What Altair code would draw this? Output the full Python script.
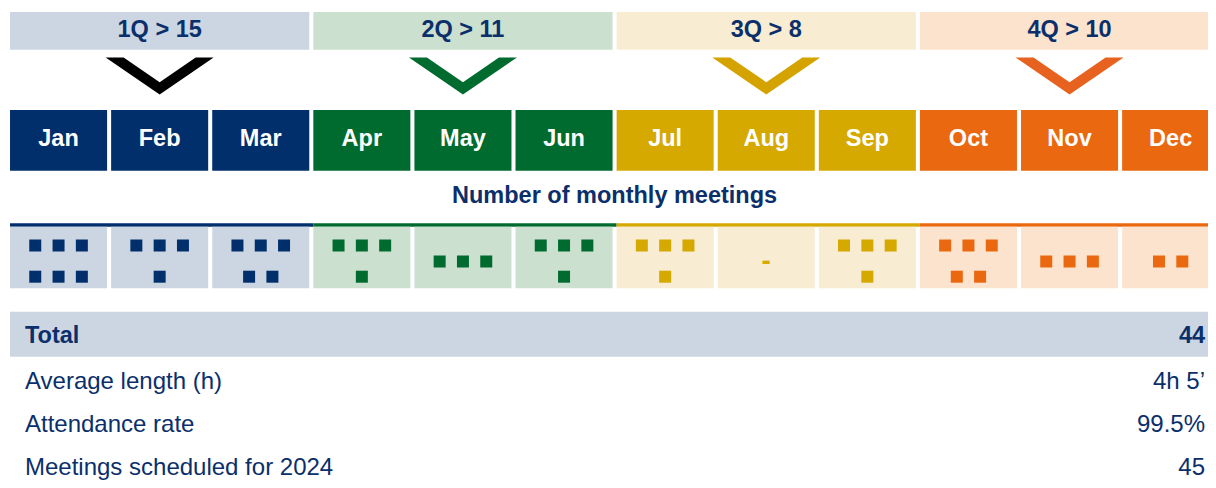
import altair as alt
import pandas as pd

# ---------------- data ----------------
months = ["Jan", "Feb", "Mar", "Apr", "May", "Jun",
          "Jul", "Aug", "Sep", "Oct", "Nov", "Dec"]
meetings = [6, 4, 5, 4, 3, 4, 4, 0, 4, 5, 3, 2]
quarters = ["1Q", "2Q", "3Q", "4Q"]
quarter_totals = [15, 11, 8, 10]
dark_colors = ["#002F6C", "#006B2F", "#D5A900", "#EA680F"]
light_colors = ["#CCD6E2", "#CCE0D0", "#F8ECD3", "#FCE3CE"]
chevron_colors = ["#000000", "#006B2F", "#D5A300", "#E8621F"]
title_text = "Number of monthly meetings"
table_labels = ["Total", "Average length (h)", "Attendance rate",
                "Meetings scheduled for 2024"]
table_values = ["44", "4h 5\u2019", "99.5%", "45"]

NAVY = "#0B2F6B"
FONT = "Liberation Sans"
CHEVRON = "M -1 -0.343 L -0.667 -0.343 L 0 0.114 L 0.667 -0.343 L 1 -0.343 L 0 0.343 Z"

# ---------------- tables built from the arrays ----------------
q_df = pd.DataFrame({
    "q": range(4),
    "label": [f"{q} > {t}" for q, t in zip(quarters, quarter_totals)],
    "dark": dark_colors,
    "light": light_colors,
    "chev": chevron_colors,
})
q_df["x"] = q_df["q"] * 3 + 0.02
q_df["x2"] = q_df["q"] * 3 + 2.98
q_df["xc"] = q_df["q"] * 3 + 1.5
q_df["lx"] = q_df["q"] * 3 + 0.02
q_df["lx2"] = q_df["q"] * 3 + 3.02

m_df = pd.DataFrame({"i": range(12), "month": months, "n": meetings})
m_df["q"] = m_df["i"] // 3
m_df["dark"] = [dark_colors[q] for q in m_df["q"]]
m_df["light"] = [light_colors[q] for q in m_df["q"]]
m_df["x"] = m_df["i"] + 0.02
m_df["x2"] = m_df["i"] + 0.98
m_df["xc"] = m_df["i"] + 0.5

sq_rows = []
STEP = 0.2305
for i, n in enumerate(meetings):
    col = dark_colors[i // 3]
    if n == 0:
        continue
    if n <= 3:
        rows = [(n, 253.5)]
    else:
        rows = [(3, 237.5), (n - 3, 268.7)]
    for cnt, yy in rows:
        for j in range(cnt):
            sq_rows.append({"x": i + 0.5 + (j - (cnt - 1) / 2) * STEP,
                            "y": yy, "color": col})
sq_df = pd.DataFrame(sq_rows)

zero_df = m_df[m_df["n"] == 0].copy()
zero_df["t"] = "-"

t_df = pd.DataFrame({"label": table_labels, "value": table_values,
                     "y": [335, 380.5, 424, 466.5]})

# ---------------- scales ----------------
xs = alt.Scale(domain=[0, 12], range=[0, 1213.2], nice=False, zero=False)
ys = alt.Scale(domain=[0, 472], range=[0, 472], nice=False, zero=False)


def X(f):
    return alt.X(f, type="quantitative", scale=xs, axis=None)


def Y(f):
    return alt.Y(f, type="quantitative", scale=ys, axis=None)


def C(f):
    return alt.Color(f, type="nominal", scale=None, legend=None)


# quarter header bands
q_band = alt.Chart(q_df).transform_calculate(y0="4", y1="41.7").mark_rect().encode(
    x=X("x"), x2="x2", y=Y("y0"), y2="y1", color=C("light"))
q_text = alt.Chart(q_df).transform_calculate(y0="28.7").mark_text(
    font=FONT, fontSize=23.5, fontWeight="bold", align="center", baseline="alphabetic"
).encode(x=X("xc"), y=Y("y0"), text="label:N", color=alt.value(NAVY))

# chevrons
chev = alt.Chart(q_df).transform_calculate(y0="68").mark_point(
    shape=CHEVRON, size=11664, filled=True, opacity=1, strokeWidth=0
).encode(x=X("xc"), y=Y("y0"), color=C("chev"))

# month boxes
m_box = alt.Chart(m_df).transform_calculate(y0="102", y1="162.7").mark_rect().encode(
    x=X("x"), x2="x2", y=Y("y0"), y2="y1", color=C("dark"))
m_text = alt.Chart(m_df).transform_calculate(y0="138").mark_text(
    font=FONT, fontSize=23.5, fontWeight="bold", align="center", baseline="alphabetic"
).encode(x=X("xc"), y=Y("y0"), text="month:N", color=alt.value("white"))

# title
title = alt.Chart(pd.DataFrame({"t": [title_text], "x": [6.0], "y": [195]})).mark_text(
    font=FONT, fontSize=23.5, fontWeight="bold", align="center", baseline="alphabetic"
).encode(x=X("x"), y=Y("y"), text="t:N", color=alt.value(NAVY))

# quarter lines
q_line = alt.Chart(q_df).transform_calculate(y0="215.3", y1="218.8").mark_rect().encode(
    x=X("lx"), x2="lx2", y=Y("y0"), y2="y1", color=C("dark"))

# meeting cells
cells = alt.Chart(m_df).transform_calculate(y0="218.8", y1="280.3").mark_rect().encode(
    x=X("x"), x2="x2", y=Y("y0"), y2="y1", color=C("light"))
squares = alt.Chart(sq_df).mark_square(size=144, opacity=1).encode(
    x=X("x"), y=Y("y"), color=C("color"))
dash = alt.Chart(zero_df).transform_calculate(y0="261.5").mark_text(
    font=FONT, fontSize=28, fontWeight="bold", align="center", baseline="alphabetic"
).encode(x=X("xc"), y=Y("y0"), text="t:N", color=C("dark"))

# summary table
band = alt.Chart(pd.DataFrame({"x": [0.02], "x2": [12.5], "y": [303.7], "y2": [348.7]})).mark_rect(
    color=light_colors[0]).encode(x=X("x"), x2="x2", y=Y("y"), y2="y2")
lab_b = alt.Chart(t_df.iloc[:1]).transform_calculate(x0="0.168").mark_text(
    font=FONT, fontSize=23.5, fontWeight="bold", align="left", baseline="alphabetic"
).encode(x=X("x0"), y=Y("y"), text="label:N", color=alt.value(NAVY))
val_b = alt.Chart(t_df.iloc[:1]).transform_calculate(x0="11.84").mark_text(
    font=FONT, fontSize=23.5, fontWeight="bold", align="right", baseline="alphabetic"
).encode(x=X("x0"), y=Y("y"), text="value:N", color=alt.value(NAVY))
lab_r = alt.Chart(t_df.iloc[1:]).transform_calculate(x0="0.168").mark_text(
    font=FONT, fontSize=24, align="left", baseline="alphabetic"
).encode(x=X("x0"), y=Y("y"), text="label:N", color=alt.value(NAVY))
val_r = alt.Chart(t_df.iloc[1:]).transform_calculate(x0="11.84").mark_text(
    font=FONT, fontSize=24, align="right", baseline="alphabetic"
).encode(x=X("x0"), y=Y("y"), text="value:N", color=alt.value(NAVY))

chart = alt.layer(
    q_band, q_text, chev, m_box, m_text, title, q_line, cells, squares, dash,
    band, lab_b, val_b, lab_r, val_r
).properties(
    width=1200, height=472, padding=0, autosize=alt.AutoSizeParams(type="none"),
    background="white"
).configure_view(stroke=None)

chart.save("out.html", embed_options={"renderer": "svg", "actions": False})
